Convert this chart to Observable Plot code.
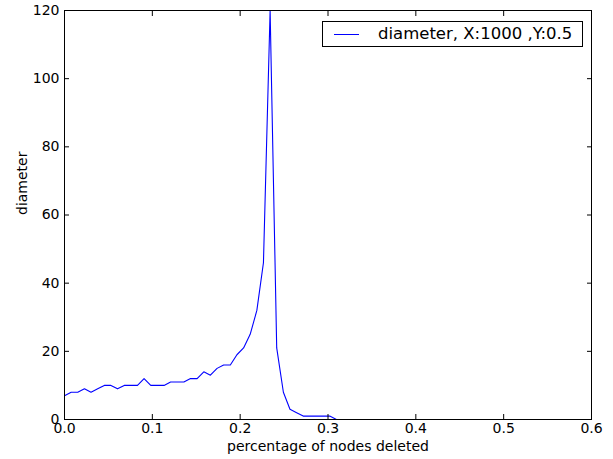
<!DOCTYPE html>
<html>
<head>
<meta charset="utf-8">
<script src="https://cdn.jsdelivr.net/npm/d3@7"></script>
<script src="https://cdn.jsdelivr.net/npm/@observablehq/plot@0.6"></script>
<style>
  html, body { margin: 0; padding: 0; background: #fff; }
  #wrap { position: relative; width: 613px; height: 459px; }
  #legend { position: absolute; left: 322px; top: 21px; width: 259px; height: 24px;
    border: 1px solid #000; background: #fff; font-family: "DejaVu Sans", sans-serif; font-size: 16.5px; }
  #legend .sw { position: absolute; left: 11px; top: 11.5px; width: 25px; height: 0; border-top: 1px solid #0000ff; }
  #legend .lab { position: absolute; left: 55px; top: 1px; line-height: 22px; white-space: nowrap; color: #000; }
</style>
</head>
<body>
<div id="wrap"></div>
<script>
// fraction of nodes deleted
const fractionDeleted = [0, 0.0076, 0.0151, 0.0227, 0.0302, 0.0378, 0.0453, 0.0529, 0.0604, 0.068,
  0.0755, 0.0831, 0.0906, 0.0982, 0.1057, 0.1133, 0.1208, 0.1284, 0.1359, 0.1435,
  0.151, 0.1586, 0.1661, 0.1737, 0.1812, 0.1888, 0.1963, 0.2039, 0.2114, 0.219,
  0.2265, 0.2341, 0.2416, 0.2492, 0.2567, 0.2643, 0.2718, 0.2794, 0.2869, 0.2945,
  0.302, 0.3096];
const diameterValues = [7, 8, 8, 9, 8, 9, 10, 10, 9, 10,
  10, 10, 12, 10, 10, 10, 11, 11, 11, 12,
  12, 14, 13, 15, 16, 16, 19, 21, 25, 32,
  46, 120, 21, 8, 3, 2, 1, 1, 1, 1,
  1, 0];
const xTicks = [0, 0.1, 0.2, 0.3, 0.4, 0.5, 0.6];
const yTicks = [0, 20, 40, 60, 80, 100, 120];
const seriesLabel = "diameter, X:1000 ,Y:0.5";
const xLabel = "percentage of nodes deleted";
const yLabel = "diameter";

const data = fractionDeleted.map((x, i) => ({x, y: diameterValues[i]}));

const chart = Plot.plot({
  width: 613,
  height: 459,
  marginLeft: 64,
  marginRight: 22,
  marginTop: 10,
  marginBottom: 40,
  style: {fontFamily: "DejaVu Sans, sans-serif", fontSize: "14px", background: "#fff", color: "#000"},
  x: {domain: [0, 0.6], axis: null},
  y: {domain: [0, 120], axis: null},
  marks: [
    Plot.line(data, {x: "x", y: "y", stroke: "#0000ff", strokeWidth: 1.1}),
    Plot.axisX(xTicks, {anchor: "bottom", tickSize: -5, tickFormat: () => "", label: null}),
    Plot.axisX(xTicks, {anchor: "top", tickSize: -5, tickFormat: () => "", label: null}),
    Plot.axisY(yTicks, {anchor: "left", tickSize: -5, tickFormat: () => "", label: null}),
    Plot.axisY(yTicks, {anchor: "right", tickSize: -5, tickFormat: () => "", label: null}),
    Plot.axisX(xTicks, {anchor: "bottom", tickSize: 0, tickPadding: 4, tickFormat: d3.format(".1f"), label: null, fontSize: 14}),
    Plot.axisY(yTicks, {anchor: "left", tickSize: 0, tickPadding: 5, tickFormat: d3.format("d"), label: null, fontSize: 14}),
    Plot.frame({stroke: "#000", strokeWidth: 1}),
    Plot.text([xLabel], {frameAnchor: "bottom", dy: 31, fontSize: 14, fill: "#000"}),
    Plot.text([yLabel], {frameAnchor: "left", dx: -42, rotate: -90, fontSize: 14, fill: "#000"})
  ]
});
chart.style.display = "block";
const wrap = document.getElementById("wrap");
wrap.appendChild(chart);
const legend = document.createElement("div");
legend.id = "legend";
legend.innerHTML = '<div class="sw"></div><div class="lab"></div>';
legend.querySelector(".lab").textContent = seriesLabel;
wrap.appendChild(legend);
</script>
</body>
</html>
